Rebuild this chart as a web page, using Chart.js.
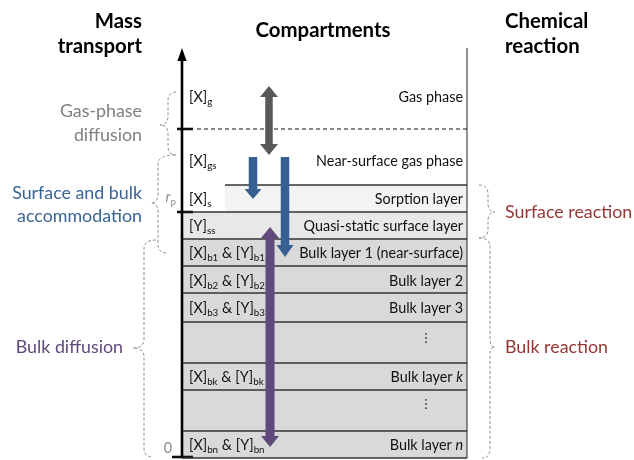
<!DOCTYPE html>
<html><head><meta charset="utf-8">
<script src="https://cdn.jsdelivr.net/npm/chart.js@4.4.1/dist/chart.umd.min.js"></script>
<style>html,body{margin:0;padding:0;background:#fff;overflow:hidden}#wrap{width:634px;height:460px}</style>
</head><body><div id="wrap"><canvas id="c" width="634" height="460"></canvas></div>
<script>
// ---------------- data ----------------
const layerNames = ['Gas phase','Near-surface gas phase','Sorption layer','Quasi-static surface layer','Bulk layer 1 (near-surface)','Bulk layer 2','Bulk layer 3','⋮','Bulk layer *k*','⋮','Bulk layer *n*'];
const concLabels = ['[X]_{g}','[X]_{gs}','[X]_{s}','[Y]_{ss}','[X]_{b1} & [Y]_{b1}','[X]_{b2} & [Y]_{b2}','[X]_{b3} & [Y]_{b3}','','[X]_{bk} & [Y]_{bk}','','[X]_{bn} & [Y]_{bn}'];
const layerTops    = [48,129,185,212,239,266,293,322,363,390,431];
const layerBottoms = [129,185,212,239,266,293,322,363,390,431,458];
const transportNames = [['Gas-phase','diffusion'],['Surface and bulk','accommodation'],['Bulk diffusion']];
const transportSpan  = [[92,155],[155,253],[240,457]];
const transportTip   = [125,203,348];
const reactionNames = ['Surface reaction','Bulk reaction'];
const reactionSpan  = [[185,238],[238,458]];
const reactionTip   = [212,347];
const axisTicks = [129,212,457];
const axisTickLabels = ['','*r*_{p}','0'];
const fluxFrom = [86,157,157,227];
const fluxTo   = [155,199,257,447];
const fluxX    = [269,253,285,270];
const fluxBothWays = [true,false,false,true];

// ---------------- styles ----------------
const FONT = 'Lato';
const X0 = 182, X1 = 467;
const layerFill = [null,null,'#f3f3f3','#e8e8e8','#d9d9d9','#d9d9d9','#d9d9d9','#d9d9d9','#d9d9d9','#d9d9d9','#d9d9d9'];
const layerLeft = [X0,197,225,X0,X0,X0,X0,X0,X0,X0,X0];
const labelDy = [13.5,9,5.5,5.5,5.5,6,5.5,-4.5,5.5,-6.5,5.5];
const fluxColor = ['#595959','#376092','#376092','#604a7b'];
const fluxShaft = [7.5,8.5,8.5,9];
const fluxHead = [18,17,17,18];
const fluxHeadLen = [11,10,12,11];
const transportColor = ['#7f7f7f','#3a6496','#604a7b'];
const reactionColor = '#953735';
const textColor = '#111';

const layerSets = layerNames.map((n,i)=>({
  label:n,
  data:[{x:layerLeft[i],y:layerTops[i]},{x:X1,y:layerTops[i]}],
  showLine:true, pointRadius:0, clip:false,
  borderColor: i===1 ? '#111' : '#333',
  borderWidth: i===0 ? 0 : (i===1 ? 1 : 1.3),
  borderDash: i===1 ? [4,3] : [],
  backgroundColor: layerFill[i] || 'rgba(0,0,0,0)',
  fill: layerFill[i] ? {value: layerBottoms[i]} : false
}));
const frameSets = [
  {label:'base', data:[{x:X0,y:layerBottoms[layerBottoms.length-1]},{x:X1,y:layerBottoms[layerBottoms.length-1]}], borderColor:'#333', borderWidth:1.3},
  {label:'right', data:[{x:X1,y:layerTops[0]},{x:X1,y:layerBottoms[layerBottoms.length-1]}], borderColor:'#333', borderWidth:1.1},
  {label:'axis', data:[{x:X0,y:60},{x:X0,y:layerBottoms[layerBottoms.length-1]}], borderColor:'#000', borderWidth:2.6},
  ...axisTicks.map((t,i)=>({label:'tick'+i, data:[{x:i===2?172:177,y:t},{x:193,y:t}], borderColor:'#111', borderWidth:2.6}))
].map(d=>Object.assign({showLine:true,pointRadius:0,clip:false,fill:false},d));

function parseRich(s){const out=[];const re=/_\{([^}]*)\}|\*([^*]*)\*|([^_*]+)/g;let m;while((m=re.exec(s))){if(m[1]!==undefined)out.push({t:m[1],sub:true});else if(m[2]!==undefined)out.push({t:m[2],it:true});else out.push({t:m[3]});}return out;}
function drawRich(ctx,s,x,y,align,size,color){
  const segs=parseRich(s);
  const fontOf=g=>`${g.it?'italic ':''}${g.sub?size*0.68:size}px ${FONT}`;
  let w=0; segs.forEach(g=>{ctx.font=fontOf(g);g.w=ctx.measureText(g.t).width;w+=g.w;});
  let cx = align==='right'?x-w:(align==='center'?x-w/2:x);
  ctx.textAlign='left'; ctx.fillStyle=color;
  segs.forEach(g=>{ctx.font=fontOf(g);ctx.fillText(g.t,cx,y+(g.sub?size*0.24:0));cx+=g.w;});
}
function fit(ctx,text,weight,target){ctx.font=`${weight} 20px ${FONT}`;return 20*target/ctx.measureText(text).width;}
function brace(ctx,xT,xB,y0,y1,xs,xt,yt){
  const r0=Math.min(9,(yt-y0)/2), r1=Math.min(9,(y1-yt)/2);
  ctx.beginPath();
  ctx.moveTo(xT,y0);
  ctx.quadraticCurveTo(xs,y0,xs,y0+r0);
  ctx.lineTo(xs,yt-r0);
  ctx.quadraticCurveTo(xs,yt,xt,yt);
  ctx.quadraticCurveTo(xs,yt,xs,yt+r1);
  ctx.lineTo(xs,y1-r1);
  ctx.quadraticCurveTo(xs,y1,xB,y1);
  ctx.stroke();
}
function blockArrow(ctx,x,yA,yB,shaft,head,hl,both,color){
  const hs=shaft/2,hh=head/2;
  ctx.beginPath();
  if(both){ctx.moveTo(x,yA);ctx.lineTo(x+hh,yA+hl);ctx.lineTo(x+hs,yA+hl);}
  else{ctx.moveTo(x-hs,yA);ctx.lineTo(x+hs,yA);}
  ctx.lineTo(x+hs,yB-hl);ctx.lineTo(x+hh,yB-hl);ctx.lineTo(x,yB);ctx.lineTo(x-hh,yB-hl);ctx.lineTo(x-hs,yB-hl);
  if(both){ctx.lineTo(x-hs,yA+hl);ctx.lineTo(x-hh,yA+hl);}
  ctx.closePath(); ctx.fillStyle=color; ctx.fill();
}

const diagram = {
  id:'diagram',
  afterDatasetsDraw(chart){
    const ctx=chart.ctx, sx=chart.scales.x, sy=chart.scales.y;
    const px=v=>sx.getPixelForValue(v), py=v=>sy.getPixelForValue(v);
    ctx.save();
    // axis arrow head
    ctx.fillStyle='#000'; ctx.beginPath();
    ctx.moveTo(px(X0),py(48)); ctx.lineTo(px(X0)+4.6,py(61)); ctx.lineTo(px(X0)-4.6,py(61)); ctx.closePath(); ctx.fill();
    // fluxes
    fluxX.forEach((x,i)=>blockArrow(ctx,px(x),py(fluxFrom[i]),py(fluxTo[i]),fluxShaft[i],fluxHead[i],fluxHeadLen[i],fluxBothWays[i],fluxColor[i]));
    const body=fit(ctx,'Near-surface gas phase','',147);
    const head=fit(ctx,'Compartments','bold',135);
    const side=fit(ctx,'Surface and bulk','',130);
    ctx.textBaseline='alphabetic';
    // layer labels
    layerNames.forEach((n,i)=>{
      const yc=(py(layerTops[i])+py(layerBottoms[i]))/2;
      if(n==='⋮'){ctx.fillStyle='#333';for(let k=-1;k<=1;k++){ctx.beginPath();ctx.arc(px(426),yc+labelDy[i]+k*4.2,0.9,0,Math.PI*2);ctx.fill();}return;}
      drawRich(ctx,n,px(463),yc+labelDy[i],'right',body,textColor);
      if(concLabels[i]) drawRich(ctx,concLabels[i],px(189),yc+labelDy[i],'left',body,textColor);
    });
    // headers
    ctx.fillStyle='#000'; ctx.font=`bold ${head}px ${FONT}`;
    ctx.textAlign='right'; ctx.fillText('Mass',142,28); ctx.fillText('transport',142,53);
    ctx.textAlign='center'; ctx.fillText('Compartments',323,37);
    ctx.textAlign='left'; ctx.fillText('Chemical',505,28); ctx.fillText('reaction',505,53);
    // transport labels
    ctx.font=`${side}px ${FONT}`;
    const tBase=[[117,141],[199,222],[353]];
    const tRight=[142,142,123];
    transportNames.forEach((lines,i)=>{ctx.fillStyle=transportColor[i];ctx.textAlign='right';lines.forEach((l,j)=>ctx.fillText(l,tRight[i],tBase[i][j]));});
    ctx.fillStyle=reactionColor; ctx.textAlign='left';
    const rBase=[218,353];
    reactionNames.forEach((n,i)=>ctx.fillText(n,505,rBase[i]));
    // tick labels
    drawRich(ctx,axisTickLabels[1],px(176),py(axisTicks[1])-10,'right',body,'#8c8c8c');
    drawRich(ctx,axisTickLabels[2],px(172),py(axisTicks[2])-4,'right',body,'#8c8c8c');
    // braces
    ctx.strokeStyle='#8c8c8c'; ctx.lineWidth=1; ctx.setLineDash([3,2]);
    const bxT=[176,175,156], bxB=[176,167,153], bxs=[168,158,144], bxt=[160,151,133];
    transportSpan.forEach((s,i)=>brace(ctx,px(bxT[i]),px(bxB[i]),py(s[0]),py(s[1]),px(bxs[i]),px(bxt[i]),py(transportTip[i])));
    const rxT=[479,479], rxB=[479,482], rxs=[488,490], rxt=[495,495];
    reactionSpan.forEach((s,i)=>brace(ctx,px(rxT[i]),px(rxB[i]),py(s[0]),py(s[1]),px(rxs[i]),px(rxt[i]),py(reactionTip[i])));
    ctx.restore();
  }
};

new Chart(document.getElementById('c'),{
  type:'scatter',
  data:{datasets:[...frameSets,...layerSets]},
  options:{
    responsive:false, animation:false, events:[],
    layout:{padding:0},
    scales:{
      x:{type:'linear',min:0,max:634,display:false},
      y:{type:'linear',min:0,max:460,reverse:true,display:false}
    },
    plugins:{legend:{display:false},tooltip:{enabled:false},filler:{drawTime:'beforeDatasetsDraw'}}
  },
  plugins:[diagram]
});
</script></body></html>
